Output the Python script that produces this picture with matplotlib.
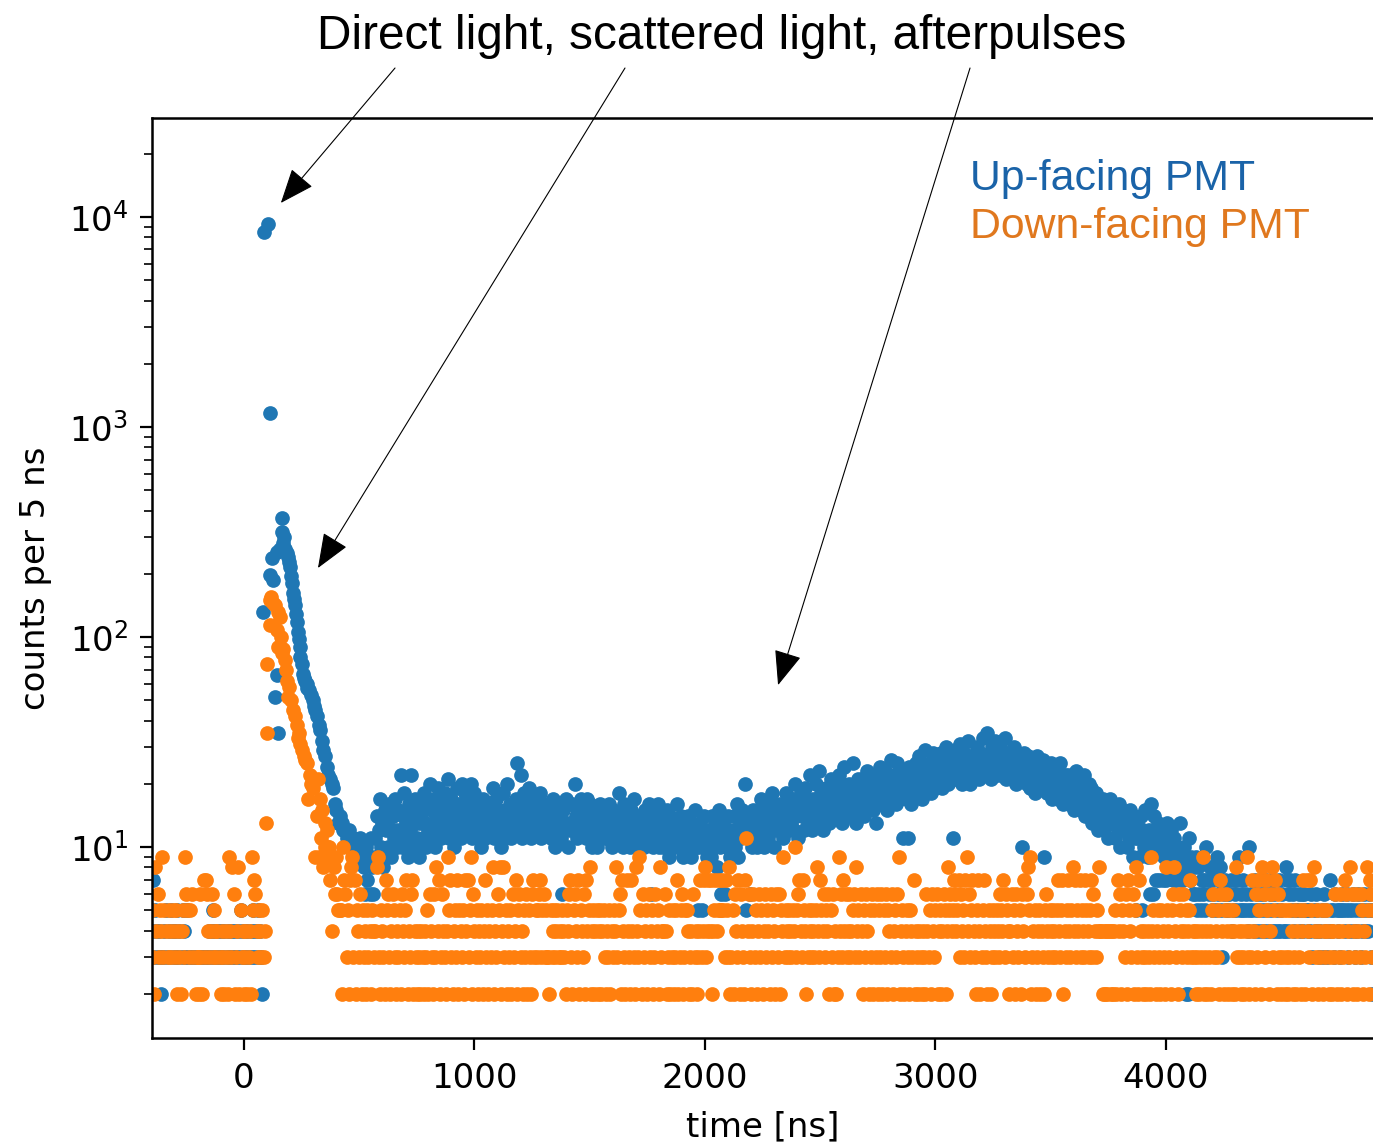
import numpy as np
import matplotlib
matplotlib.use("Agg")
import matplotlib.pyplot as plt

# histogram bins are 5 ns wide
bin_ns = 5

# ---- Up-facing PMT (blue) ----
blue_pre_start = -400
blue_pre = [4, 7, 3, 5, 4, 3, 4, 3, 2, 3,  3, 4, 5, 3, 1, 4, 3, 5, 4, 3,
            4, 3, 5, 3, 4, 1, 3, 5, 4, 3,  3, 5, 3, 1, 3, 3, 1, 3, 3, 3,
            3, 3, 1, 3, 3, 3, 1, 3, 3, 3,  4, 3, 4, 5, 3, 4, 3, 4, 3, 4,
            3, 4, 3, 4, 1, 3, 4, 3, 4, 3,  4, 3, 4, 3, 1, 4, 3, 5, 4, 3,
            3, 4, 3, 4, 3, 1, 4, 3, 5, 4,  3, 4, 5, 3, 4, 3, 2]

# peak + scattered light, irregular times
blue_peak_t = [82, 87, 104, 113, 113, 121, 126, 134, 143, 143, 147, 155, 165, 165, 169,
               175, 180, 185, 191, 195, 200, 205, 208, 213, 215, 221, 225, 230, 234, 240,
               243, 243, 250, 256, 260, 265, 273, 275, 280, 290, 299, 305, 310, 317, 325,
               330, 338, 345, 351, 360, 365, 373, 380, 386, 395, 400, 408, 415, 425, 430,
               438, 445, 455, 465, 475, 485, 495, 503, 510, 516]
blue_peak_n = [132, 8500, 9300, 1170, 198, 238, 187, 52, 254, 66, 35, 262, 369, 316, 280,
               300, 262, 250, 240, 228, 215, 196, 181, 162, 152, 142, 128, 118, 106, 98,
               90, 80, 74, 67, 64, 62, 60, 57, 56, 53, 50, 47, 45, 42, 38,
               36, 32, 29, 27, 24, 22, 21, 20, 19, 16, 15, 13, 14, 13, 12,
               12, 11, 12, 10, 11, 10, 9, 11, 10, 9]

blue_post_start = 520
blue_post = [
    8, 6, 10, 7, 9, 6, 11, 8, 6, 9,  11, 14, 9, 12, 17, 10, 13, 8, 15, 12,
    13, 10, 16, 12, 9, 14, 11, 17, 12, 10,  15, 12, 22, 10, 14, 18, 11, 13, 9, 16,
    12, 22, 14, 10, 17, 13, 11, 15, 9, 13,  14, 11, 18, 13, 10, 16, 12, 20, 11, 15,
    13, 17, 10, 14, 19, 12, 15, 11, 16, 13,  18, 12, 15, 21, 11, 14, 17, 13, 10, 16,
    14, 19, 12, 16, 11, 20, 13, 15, 18, 12,  17, 13, 15, 20, 11, 14, 18, 12, 16, 13,
    12, 15, 10, 17, 13, 11, 16, 14, 12, 15,  16, 13, 19, 11, 14, 17, 12, 15, 13, 10,
    13, 18, 11, 15, 20, 12, 14, 16, 11, 13,  15, 12, 17, 25, 13, 16, 22, 11, 14, 18,
    13, 16, 12, 19, 14, 11, 17, 13, 15, 12,  17, 12, 14, 18, 11, 15, 13, 16, 12, 14,
    12, 15, 11, 14, 17, 13, 10, 16, 12, 14,  14, 11, 6, 15, 12, 17, 13, 10, 16, 12,
    13, 16, 12, 20, 14, 11, 15, 13, 17, 12,  15, 12, 14, 11, 17, 13, 16, 12, 10, 14,
    12, 15, 10, 14, 11, 16, 13, 12, 15, 11,  14, 11, 13, 16, 12, 10, 15, 13, 11, 14,
    12, 18, 11, 14, 13, 10, 16, 12, 14, 11,  13, 10, 15, 12, 17, 11, 14, 12, 10, 13,
    11, 14, 12, 10, 15, 13, 11, 16, 12, 6,  12, 10, 14, 11, 13, 16, 10, 12, 15, 11,
    10, 13, 11, 15, 12, 9, 14, 11, 13, 10,  13, 11, 16, 10, 12, 14, 11, 9, 13, 12,
    11, 14, 10, 12, 9, 13, 11, 15, 10, 12,  5, 10, 13, 5, 11, 14, 10, 12, 9, 11,
    12, 9, 14, 11, 10, 13, 8, 12, 15, 10,  6, 11, 13, 6, 12, 10, 14, 11, 9, 12,
    11, 14, 10, 12, 16, 9, 13, 11, 15, 12,  13, 20, 5, 11, 14, 6, 12, 10, 15, 13,
    12, 10, 15, 13, 11, 17, 14, 10, 12, 16,  14, 11, 16, 12, 18, 13, 10, 15, 12, 14,
    13, 16, 12, 15, 11, 14, 18, 13, 16, 12,  15, 13, 17, 12, 20, 14, 16, 11, 15, 18,
    14, 17, 12, 19, 15, 13, 16, 22, 14, 12,  17, 14, 20, 13, 16, 23, 15, 18, 12, 16,
    15, 19, 14, 17, 13, 21, 16, 18, 14, 20,  18, 14, 22, 16, 19, 13, 17, 24, 15, 18,
    16, 20, 14, 18, 25, 15, 19, 13, 17, 21,  19, 15, 21, 17, 14, 20, 18, 23, 16, 19,
    17, 22, 15, 19, 13, 21, 18, 16, 24, 17,  20, 16, 23, 18, 15, 21, 19, 26, 17, 20,
    18, 22, 16, 25, 20, 17, 23, 19, 11, 21,  21, 17, 11, 24, 19, 16, 22, 20, 18, 25,
    23, 19, 27, 21, 17, 24, 20, 29, 18, 22,  20, 25, 18, 23, 28, 21, 19, 26, 22, 24,
    22, 28, 19, 25, 21, 30, 23, 20, 27, 24,  26, 11, 24, 29, 21, 25, 22, 31, 23, 20,
    24, 28, 21, 26, 32, 23, 20, 27, 25, 22,  27, 23, 30, 25, 21, 28, 24, 33, 22, 26,
    25, 35, 23, 28, 21, 30, 26, 24, 32, 22,  29, 24, 31, 22, 27, 25, 33, 21, 28, 24,
    23, 28, 21, 26, 30, 24, 20, 27, 22, 25,  26, 10, 22, 28, 24, 20, 27, 23, 19, 25,
    21, 25, 18, 23, 27, 20, 24, 19, 22, 26,  9, 20, 24, 18, 22, 19, 25, 17, 21, 23,
    19, 23, 17, 21, 25, 18, 20, 16, 22, 19,  18, 22, 16, 20, 17, 21, 15, 19, 23, 17,
    17, 20, 15, 19, 16, 22, 14, 18, 16, 20,  15, 19, 13, 17, 14, 18, 16, 12, 17, 15,
    14, 17, 12, 16, 13, 15, 11, 17, 13, 14,  13, 15, 11, 14, 12, 16, 10, 13, 15, 12,
    12, 14, 10, 13, 11, 15, 12, 9, 14, 11,  5, 13, 11, 9, 14, 5, 12, 10, 15, 11,
    9, 12, 6, 16, 11, 6, 14, 7, 10, 13,  7, 10, 12, 7, 9, 11, 7, 13, 8, 10,
    12, 8, 7, 11, 9, 7, 10, 8, 13, 7,  9, 7, 10, 2, 8, 2, 11, 7, 9, 6,
    8, 6, 9, 5, 8, 6, 5, 7, 6, 7,  5, 10, 7, 6, 8, 7, 5, 6, 8, 5,
    9, 6, 7, 8, 5, 3, 6, 7, 5, 6,  5, 6, 7, 4, 5, 7, 6, 5, 7, 9,
    5, 6, 5, 7, 5, 6, 5, 4, 10, 5,  6, 5, 4, 7, 5, 6, 4, 5, 6, 4,
    5, 6, 4, 7, 5, 4, 6, 5, 7, 4,  6, 4, 5, 4, 7, 4, 5, 6, 4, 4,
    8, 7, 4, 6, 7, 5, 6, 4, 7, 5,  5, 6, 4, 5, 6, 4, 6, 5, 5, 4,
    5, 4, 6, 3, 5, 4, 6, 5, 4, 3,  4, 5, 3, 6, 4, 5, 3, 4, 7, 5,
    4, 5, 3, 6, 5, 4, 5, 3, 5, 6,  5, 4, 5, 6, 3, 5, 4, 5, 6, 4,
    3, 5, 4, 6, 5, 3, 4, 5, 6, 4,  5, 4, 6, 5, 3, 2, 5]

# ---- Down-facing PMT (orange) ----
orange_pre_start = -400
orange_pre = [5, 3, 2, 8, 4, 6, 3, 5, 4, 9,  3, 5, 4, 1, 3, 5, 4, 3, 5, 4,
              3, 5, 2, 4, 3, 2, 4, 5, 3, 9,  6, 5, 3, 5, 1, 6, 3, 1, 2, 3,
              3, 2, 6, 3, 2, 7, 3, 7, 6, 4,  3, 4, 6, 3, 5, 4, 3, 4, 1, 3,
              2, 4, 3, 2, 4, 3, 2, 9, 4, 3,  8, 6, 2, 3, 4, 8, 2, 5, 3, 4,
              2, 3, 4, 2, 3, 4, 2, 9, 5, 7,  6, 4, 3, 5, 4, 3, 5, 3, 4]

orange_peak_t = [95, 100, 100, 113, 113, 118, 125, 134, 143, 147, 147, 155, 160, 165, 170,
                 178, 183, 187, 191, 195, 205, 212, 221, 228, 234, 240, 245, 252, 260, 265,
                 273, 278, 286, 292, 300, 308, 317, 321, 325, 330, 335, 340, 345, 351, 351,
                 355, 360, 365]
orange_peak_n = [13, 35, 74, 150, 114, 155, 145, 142, 108, 132, 90, 125, 100, 84, 88,
                 78, 70, 62, 52, 58, 50, 45, 42, 38, 33, 35, 31, 29, 27, 26,
                 25, 17, 22, 20, 19, 9, 14, 21, 9, 17, 11, 15, 8, 13, 10,
                 9, 12, 10]

orange_post_start = 370
orange_post = [
    10, 7, 4, 9, 8, 6, 9, 6, 5, 5,  5, 2, 10, 7, 6, 3, 5, 2, 7, 8,
    9, 3, 7, 2, 5, 4, 3, 6, 2, 5,  3, 4, 2, 5, 3, 4, 2, 5, 4, 3,
    4, 8, 9, 3, 2, 5, 4, 3, 2, 7,  5, 6, 3, 2, 4, 6, 5, 3, 2, 4,
    3, 5, 2, 6, 4, 3, 5, 7, 2, 4,  3, 6, 7, 2, 4, 3, 2, 4, 3, 2,
    4, 3, 2, 4, 3, 5, 2, 6, 4, 3,  2, 6, 3, 8, 4, 7, 2, 3, 6, 4,
    3, 2, 4, 9, 5, 7, 3, 2, 4, 5,  3, 7, 2, 5, 4, 3, 5, 2, 7, 4,
    7, 3, 5, 9, 2, 6, 4, 3, 5, 2,  4, 3, 5, 2, 4, 7, 3, 5, 2, 4,
    3, 5, 8, 2, 4, 3, 6, 5, 8, 2,  4, 8, 3, 5, 2, 4, 3, 5, 2, 6,
    3, 4, 7, 2, 5, 6, 3, 4, 2, 5,  3, 6, 2, 5, 3, 2, 6, 7, 3, 5,
    3, 5, 6, 7, 3, 5, 6, 3, 5, 3,  3, 2, 5, 3, 4, 5, 3, 4, 5, 3,
    4, 3, 5, 4, 3, 2, 5, 4, 6, 7,  3, 2, 5, 6, 4, 3, 7, 2, 5, 4,
    3, 6, 2, 7, 4, 5, 8, 2, 4, 5,  2, 4, 5, 2, 4, 5, 2, 4, 5, 3,
    2, 4, 3, 5, 2, 4, 3, 5, 4, 8,  3, 5, 6, 2, 7, 4, 3, 2, 7, 4,
    3, 2, 7, 4, 3, 2, 8, 4, 3, 9,  5, 2, 6, 3, 4, 5, 2, 6, 3, 4,
    5, 2, 3, 6, 4, 5, 2, 8, 3, 4,  4, 6, 4, 2, 3, 5, 2, 3, 5, 2,
    3, 5, 7, 2, 3, 5, 6, 2, 3, 5,  5, 4, 2, 3, 4, 2, 6, 3, 4, 2,
    3, 4, 7, 3, 4, 7, 8, 3, 4, 7,  4, 7, 2, 4, 5, 7, 4, 5, 7, 5,
    5, 7, 5, 3, 7, 5, 3, 8, 2, 3,  5, 2, 6, 4, 3, 7, 2, 6, 4, 3,
    2, 7, 11, 4, 6, 3, 2, 4, 6, 3,  5, 2, 4, 6, 3, 5, 2, 4, 6, 3,
    5, 4, 2, 6, 3, 5, 4, 2, 6, 3,  6, 2, 5, 4, 9, 3, 5, 4, 3, 5,
    4, 3, 5, 4, 10, 3, 5, 6, 7, 4,  3, 7, 5, 4, 2, 3, 5, 4, 3, 5,
    4, 3, 5, 8, 4, 3, 7, 5, 4, 6,  3, 5, 4, 6, 2, 5, 3, 6, 2, 4,
    2, 3, 9, 4, 6, 3, 7, 4, 6, 3,  4, 6, 3, 4, 5, 6, 3, 8, 4, 5,
    3, 6, 4, 2, 5, 3, 6, 4, 2, 5,  3, 6, 2, 5, 3, 6, 2, 5, 3, 6,
    2, 5, 3, 6, 2, 5, 4, 3, 6, 2,  4, 5, 3, 6, 9, 2, 4, 5, 3, 2,
    4, 5, 3, 2, 5, 4, 3, 7, 2, 4,  3, 2, 4, 3, 2, 4, 3, 2, 6, 4,
    3, 5, 2, 6, 4, 3, 5, 6, 2, 4,  5, 2, 4, 6, 5, 2, 4, 8, 5, 6,
    4, 5, 7, 6, 4, 5, 7, 3, 6, 4,  5, 3, 7, 9, 4, 6, 3, 5, 7, 4,
    3, 2, 5, 7, 4, 2, 3, 5, 7, 4,  3, 2, 5, 4, 2, 3, 5, 4, 3, 5,
    4, 3, 6, 5, 4, 7, 3, 6, 5, 4,  2, 4, 6, 3, 5, 2, 6, 4, 3, 5,
    2, 6, 4, 7, 3, 6, 8, 5, 9, 2,  3, 4, 5, 2, 3, 4, 5, 2, 4, 3,
    2, 5, 6, 4, 3, 5, 4, 3, 5, 4,  3, 5, 7, 4, 3, 5, 7, 2, 4, 3,
    5, 7, 4, 3, 5, 8, 4, 7, 3, 5,  4, 7, 3, 5, 4, 3, 7, 5, 4, 3,
    5, 7, 3, 6, 4, 3, 5, 4, 8, 4,  4, 2, 4, 2, 4, 2, 4, 4, 2, 4,
    2, 4, 5, 2, 7, 4, 6, 2, 5, 4,  3, 6, 2, 7, 5, 4, 3, 6, 2, 5,
    8, 3, 2, 7, 4, 3, 2, 4, 3, 2,  4, 3, 2, 9, 4, 5, 3, 2, 4, 5,
    3, 2, 5, 4, 3, 2, 8, 5, 4, 3,  2, 5, 6, 8, 4, 3, 2, 6, 5, 4,
    3, 6, 4, 5, 3, 4, 5, 7, 3, 4,  3, 4, 2, 3, 4, 2, 3, 4, 9, 2,
    3, 4, 2, 3, 4, 2, 5, 6, 3, 4,  3, 5, 2, 7, 6, 4, 2, 5, 6, 4,
    2, 5, 4, 2, 5, 4, 2, 8, 3, 4,  3, 2, 4, 3, 2, 4, 9, 3, 2, 4,
    3, 7, 4, 2, 6, 3, 7, 5, 2, 8,  4, 6, 3, 7, 5, 2, 4, 6, 8, 3,
    5, 7, 2, 6, 3, 5, 2, 3, 5, 2,  3, 5, 2, 3, 5, 4, 2, 3, 5, 2,
    4, 3, 5, 2, 4, 7, 5, 2, 7, 4,  3, 7, 5, 2, 8, 4, 3, 5, 2, 4,
    3, 5, 2, 4, 3, 5, 4, 2, 3, 4,  2, 4, 3, 6, 2, 4, 3, 6, 2, 4,
    3, 7, 6, 2, 4, 3, 8, 6, 2, 4,  3, 6, 2, 4, 3, 6, 5, 2, 4, 3,
    8, 5, 2, 7, 6, 3, 5]

x_ticks = [0, 1000, 2000, 3000, 4000]

blue_color = "#1f77b4"
orange_color = "#ff7f0e"


def grid_times(start, values):
    return start + bin_ns * np.arange(len(values))


t_blue = np.concatenate([grid_times(blue_pre_start, blue_pre), blue_peak_t,
                         grid_times(blue_post_start, blue_post)])
n_blue = np.concatenate([blue_pre, blue_peak_n, blue_post]).astype(float)
t_orange = np.concatenate([grid_times(orange_pre_start, orange_pre), orange_peak_t,
                           grid_times(orange_post_start, orange_post)])
n_orange = np.concatenate([orange_pre, orange_peak_n, orange_post]).astype(float)

fig = plt.figure(figsize=(13.73, 11.45), dpi=100)
ax = fig.add_axes([0.1107, 0.0934, 0.8893, 0.8035])

ax.scatter(t_blue, n_blue, s=112, c=blue_color, linewidths=0)
ax.scatter(t_orange, n_orange, s=112, c=orange_color, linewidths=0)

ax.set_yscale("log")
ax.set_ylim(1.231, 29580)
ax.set_xlim(-399, 4898)
ax.set_xticks(x_ticks)

ax.tick_params(which="major", length=8.6, width=1.6, labelsize=24.5, pad=8.5)
ax.tick_params(which="minor", length=5.5, width=1.2)
ax.tick_params(axis="x", which="minor", bottom=False)
for side in ["left", "top", "bottom"]:
    ax.spines[side].set_linewidth(1.8)
ax.spines["right"].set_visible(False)

ax.set_xlabel("time [ns]", fontsize=24.5)
ax.set_ylabel("counts per 5 ns", fontsize=24.5)
ax.xaxis.set_label_coords(0.5, -0.079)
ax.yaxis.set_label_coords(-0.082, 0.5)

# annotations added on top of the plot
fig.text(0.5253, 0.9575, "Direct light, scattered light, afterpulses",
         fontsize=34.4, family="Liberation Sans", ha="center", va="baseline")
fig.text(0.7065, 0.834, "Up-facing PMT", fontsize=30.8, family="Liberation Sans",
         color="#1a63a8", va="baseline")
fig.text(0.7065, 0.792, "Down-facing PMT", fontsize=30.8, family="Liberation Sans",
         color="#e0781e", va="baseline")

arrow_tips = [(160, 11660), (321, 213), (2317, 59)]
arrow_tails = [(0.2877, 0.9406), (0.4552, 0.9406), (0.7065, 0.9406)]
for tip, tail in zip(arrow_tips, arrow_tails):
    ax.annotate("", xy=tip, xycoords="data", xytext=tail, textcoords="figure fraction",
                arrowprops=dict(arrowstyle="-|>,head_length=0.55,head_width=0.22",
                                mutation_scale=40, color="black", lw=0.8,
                                shrinkA=0, shrinkB=0),
                annotation_clip=False)

fig.savefig("out.png", dpi=100)
